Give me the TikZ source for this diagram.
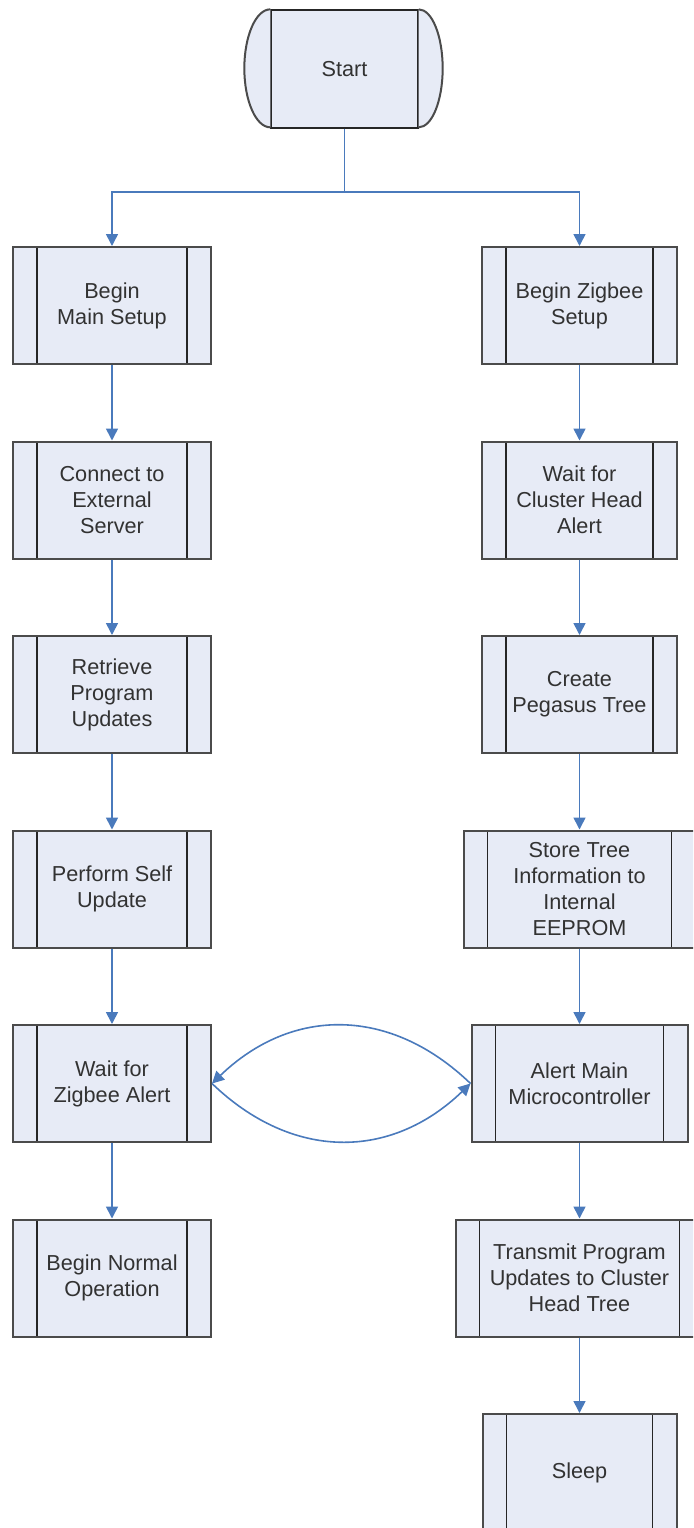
\documentclass[tikz,border=0pt]{standalone}
\usepackage{fontspec}
\setmainfont{Liberation Sans}
\usetikzlibrary{arrows.meta}

\definecolor{boxfill}{RGB}{231,235,246}
\definecolor{flowblue}{RGB}{74,122,188}
\definecolor{edgegray}{RGB}{75,75,75}
\definecolor{textgray}{RGB}{50,50,50}

\tikzset{
  boxtext/.style={text=textgray, align=center, font=\fontsize{16.25}{19.5}\selectfont},
  outline/.style={draw=edgegray, line width=1.5pt},
  % predefined-process box: rectangle with an inner bar on each side
  proc/.style={outline, fill=boxfill, boxtext, inner sep=0pt,
    minimum height=87.75pt,
    path picture={
      \draw[line width=1pt, black!85]
        ([xshift=18pt]path picture bounding box.north west) --
        ([xshift=18pt]path picture bounding box.south west)
        ([xshift=-18pt]path picture bounding box.north east) --
        ([xshift=-18pt]path picture bounding box.south east);}},
  narrow/.style={minimum width=148.5pt},
  startbox/.style={draw=black!85, line width=1pt, fill=boxfill, boxtext,
    inner sep=0pt, minimum width=110.25pt, minimum height=88.5pt},
  wire/.style={draw=flowblue, line width=1.2pt},
  flow/.style={wire, -{Triangle[length=9pt,width=9pt]}},
}

\begin{document}
\begin{tikzpicture}[x=0.75pt, y=-0.75pt]
  \useasboundingbox (0,0) rectangle (693,1528);
  \clip (0,0) rectangle (693,1528);

  % terminator
  \node[startbox] (start) at (344.5,69) {Start};
  \draw[outline, fill=boxfill] (start.north west)
    arc[start angle=90, end angle=270, x radius=19.5pt, y radius=44.25pt];
  \draw[outline, fill=boxfill] (start.north east)
    arc[start angle=90, end angle=-90, x radius=18pt, y radius=44.25pt];

  % main microcontroller column
  \node[proc, narrow] (L1) at (112,305.5)  {Begin\\Main Setup};
  \node[proc, narrow] (L2) at (112,500)    {Connect to\\External\\Server};
  \node[proc, narrow] (L3) at (112,694.5)  {Retrieve\\Program\\Updates};
  \node[proc, narrow] (L4) at (112,889)    {Perform Self\\Update};
  \node[proc, narrow] (L5) at (112,1083.5) {Wait for\\Zigbee Alert};
  \node[proc, narrow] (L6) at (112,1278)   {Begin Normal\\Operation};

  % zigbee column
  \node[proc, minimum width=146.25pt] (R1) at (579.5,305.5)  {Begin Zigbee\\Setup};
  \node[proc, minimum width=146.25pt] (R2) at (579.5,500)    {Wait for\\Cluster Head\\Alert};
  \node[proc, minimum width=146.25pt] (R3) at (579.5,694.5)  {Create\\Pegasus Tree};
  \node[proc, minimum width=174pt]    (R4) at (579.5,889)    {Store Tree\\Information to\\Internal\\EEPROM};
  \node[proc, minimum width=162pt]    (R5) at (579.5,1083.5) {Alert Main\\Microcontroller};
  \node[proc, minimum width=186pt]    (R6) at (579.5,1278)   {Transmit Program\\Updates to Cluster\\Head Tree};
  \node[proc, minimum width=145.5pt]  (R7) at (579.5,1472.5) {Sleep};

  % split after start
  \coordinate (split) at (344.5,192);
  \draw[wire] (start.south) -- (split);
  \draw[flow] (split) -| (L1.north);
  \draw[flow] (split) -| (R1.north);

  % sequential steps
  \draw[flow] (L1) -- (L2);
  \draw[flow] (L2) -- (L3);
  \draw[flow] (L3) -- (L4);
  \draw[flow] (L4) -- (L5);
  \draw[flow] (L5) -- (L6);

  \draw[flow] (R1) -- (R2);
  \draw[flow] (R2) -- (R3);
  \draw[flow] (R3) -- (R4);
  \draw[flow] (R4) -- (R5);
  \draw[flow] (R5) -- (R6);
  \draw[flow] (R6) -- (R7);

  % handshake between the two controllers
  \draw[flow] (R5.west) .. controls +(-80,-77) and +(80,-77) .. (L5.east);
  \draw[flow] (L5.east) .. controls +(80,77) and +(-80,77) .. (R5.west);
\end{tikzpicture}
\end{document}
